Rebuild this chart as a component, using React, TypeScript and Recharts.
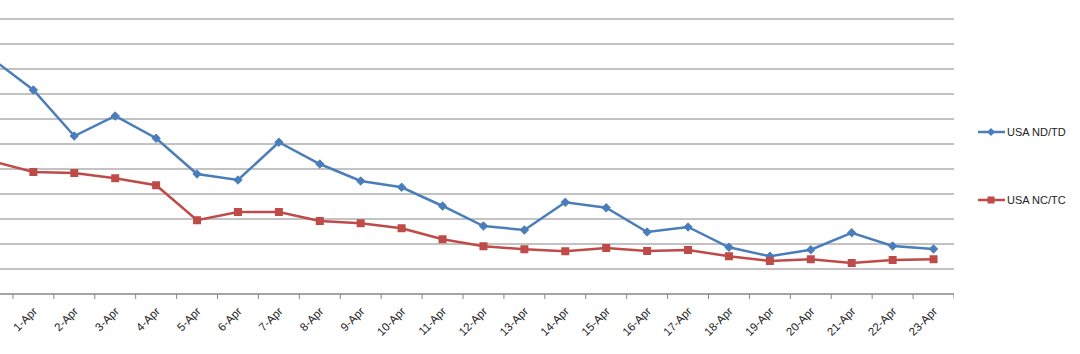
import React from "react";
import { LineChart, Line, XAxis, YAxis, CartesianGrid } from "recharts";

// the left edge of the picture cuts into the 31-Mar category
const days = [
  "31-Mar", "1-Apr", "2-Apr", "3-Apr", "4-Apr", "5-Apr", "6-Apr", "7-Apr",
  "8-Apr", "9-Apr", "10-Apr", "11-Apr", "12-Apr", "13-Apr", "14-Apr", "15-Apr",
  "16-Apr", "17-Apr", "18-Apr", "19-Apr", "20-Apr", "21-Apr", "22-Apr", "23-Apr",
];
const ndTd = [
  9.4, 8.16, 6.32, 7.12, 6.23, 4.8, 4.56, 6.07, 5.2, 4.52, 4.27, 3.52,
  2.72, 2.56, 3.67, 3.45, 2.48, 2.68, 1.87, 1.51, 1.77, 2.45, 1.92, 1.8,
];
const ncTc = [
  5.31, 4.88, 4.84, 4.63, 4.35, 2.95, 3.28, 3.28, 2.92, 2.83, 2.63, 2.19,
  1.91, 1.79, 1.71, 1.84, 1.72, 1.76, 1.51, 1.32, 1.39, 1.24, 1.36, 1.39,
];
const yTicks = [0, 1, 2, 3, 4, 5, 6, 7, 8, 9, 10, 11];

const BLUE = "#4a7ebb";
const RED = "#be4b48";
const GRID = "#868686";
const FONT = "'Liberation Sans', Arial, sans-serif";

const chartData = days.map((day, i) => ({ idx: i, day, nd: ndTd[i], nc: ncTc[i] }));
// labels sit on the category centres, tick marks on the boundaries between them
const xTicks = days.flatMap((_, i) => (i === 0 ? [i + 0.5] : [i, i + 0.5]));

const AxisTick = (props: any) => {
  const { x, y, payload } = props;
  const v = payload.value;
  if (!Number.isInteger(v)) {
    return <line x1={x} x2={x} y1={y} y2={y + 5} stroke={GRID} />;
  }
  const tx = x + 4.5;
  const ty = y + 18;
  return (
    <text
      x={tx}
      y={ty}
      transform={`rotate(-45 ${tx} ${ty})`}
      textAnchor="end"
      fontSize={11.5}
      fontFamily={FONT}
      fill="#222"
    >
      {days[v]}
    </text>
  );
};

const Diamond = (props: any) => {
  const { cx, cy, index } = props;
  if (cx == null || cy == null) return null;
  const r = 4.2;
  return (
    <path
      key={`d-${index}`}
      d={`M${cx},${cy - r}L${cx + r},${cy}L${cx},${cy + r}L${cx - r},${cy}Z`}
      fill={BLUE}
      stroke={BLUE}
    />
  );
};

const Square = (props: any) => {
  const { cx, cy, index } = props;
  if (cx == null || cy == null) return null;
  return (
    <rect key={`s-${index}`} x={cx - 4} y={cy - 4} width={8} height={8} fill={RED} />
  );
};

const LegendItem = ({ color, label, square }: { color: string; label: string; square?: boolean }) => (
  <div style={{ display: "flex", alignItems: "center", height: 14 }}>
    <svg width={28} height={10}>
      <line x1={0} x2={27} y1={5} y2={5} stroke={color} strokeWidth={2.5} />
      {square ? (
        <rect x={9.5} y={1.5} width={7} height={7} fill={color} />
      ) : (
        <path d="M13,1L17,5L13,9L9,5Z" fill={color} />
      )}
    </svg>
    <span style={{ fontSize: 11, fontFamily: FONT, color: "#222", marginLeft: 1 }}>{label}</span>
  </div>
);

export default function App() {
  return (
    <div
      style={{
        position: "absolute",
        left: 0,
        top: 0,
        width: 1080,
        height: 354,
        overflow: "hidden",
        background: "#fff",
      }}
    >
      <div style={{ position: "absolute", left: -28, top: 0 }}>
        <LineChart width={982} height={354} data={chartData} margin={{ top: 19, right: 0, bottom: 0, left: 0 }}>
          <CartesianGrid vertical={false} stroke={GRID} />
          <YAxis hide domain={[0, 11]} ticks={yTicks} />
          <XAxis
            dataKey="idx"
            type="number"
            domain={[-0.5, 23.5]}
            ticks={xTicks}
            interval={0}
            height={60}
            tickSize={0}
            tickMargin={0}
            tickLine={false}
            axisLine={{ stroke: GRID }}
            tick={<AxisTick />}
          />
          <Line
            dataKey="nd"
            stroke={BLUE}
            strokeWidth={2.5}
            dot={<Diamond />}
            activeDot={false}
            isAnimationActive={false}
          />
          <Line
            dataKey="nc"
            stroke={RED}
            strokeWidth={2.5}
            dot={<Square />}
            activeDot={false}
            isAnimationActive={false}
          />
        </LineChart>
      </div>
      <div style={{ position: "absolute", left: 978, top: 125 }}>
        <LegendItem color={BLUE} label="USA ND/TD" />
      </div>
      <div style={{ position: "absolute", left: 978, top: 193 }}>
        <LegendItem color={RED} label="USA NC/TC" square />
      </div>
    </div>
  );
}
